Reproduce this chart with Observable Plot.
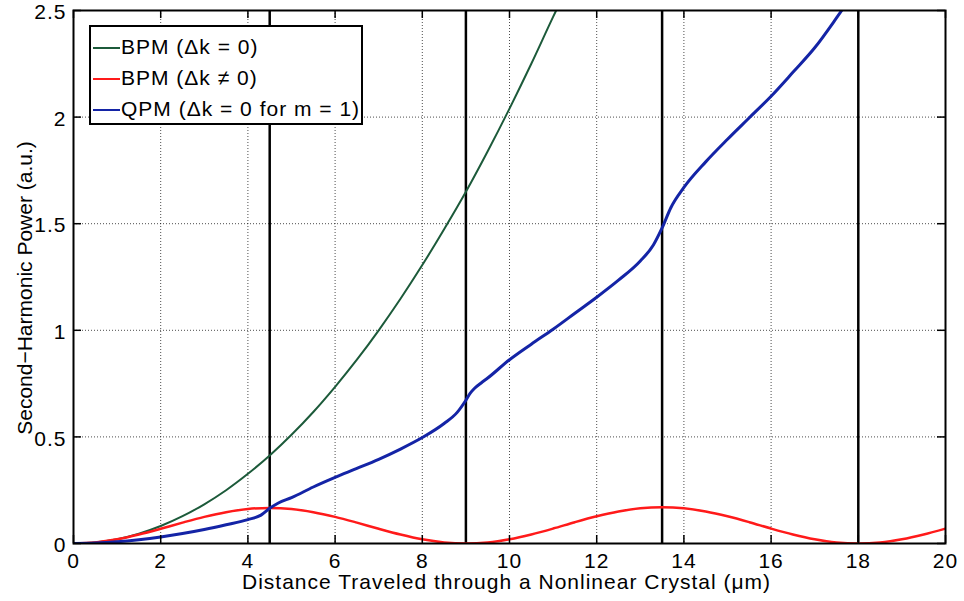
<!DOCTYPE html>
<html>
<head>
<meta charset="utf-8">
<script src="https://cdn.jsdelivr.net/npm/d3@7"></script>
<script src="https://cdn.jsdelivr.net/npm/@observablehq/plot@0.6"></script>
<style>
  html, body { margin: 0; padding: 0; background: #fff; }
  #wrap { position: relative; width: 964px; height: 601px; font-family: "Liberation Sans", Arial, Helvetica, sans-serif; }
  #legend { position: absolute; left: 89px; top: 25px; width: 274px; height: 100px; box-sizing: border-box;
            border: 2px solid #000; background: #fff; font-size: 21px; letter-spacing: 1px; color: #000; }
  .row { position: absolute; left: 0; height: 30px; width: 270px; }
  .sw { position: absolute; left: 2px; width: 27px; height: 0; border-top: 2.5px solid; }
  .lab { position: absolute; left: 30px; white-space: nowrap; line-height: 30px; top: 0; }
</style>
</head>
<body>
<div id="wrap">
  <div id="chart"></div>
  <div id="legend"></div>
</div>
<script>
// ---- data ----
const xTicks = [0, 2, 4, 6, 8, 10, 12, 14, 16, 18, 20];
const yTicks = [0, 0.5, 1, 1.5, 2, 2.5];
const domainWalls = [4.5, 9, 13.5, 18];

const seriesNames = ["BPM (\u0394k = 0)", "BPM (\u0394k \u2260 0)", "QPM (\u0394k = 0 for m = 1)"];
const seriesColors = ["#1c5a3a", "#ff1a1a", "#1424a6"];

// BPM, phase matched
const bpmX = [0, 0.5, 1, 1.5, 2, 2.5, 3, 3.5, 4, 4.5, 5, 5.5, 6, 6.5, 7, 7.5, 8, 8.5, 9, 9.5, 10, 10.5, 11, 11.07];
const bpmY = [0, 0.005, 0.02, 0.046, 0.082, 0.128, 0.184, 0.25, 0.327, 0.413, 0.51, 0.617, 0.735, 0.862, 1.0, 1.148, 1.306, 1.474, 1.65, 1.84, 2.04, 2.25, 2.47, 2.5];

// BPM, phase mismatched
const misX = [0, 0.5, 1, 1.5, 2, 2.5, 3, 3.5, 4, 4.5, 5, 5.5, 6, 6.5, 7, 7.5, 8, 8.5, 9,
              9.5, 10, 10.5, 11, 11.5, 12, 12.5, 13, 13.5, 14, 14.5, 15, 15.5, 16, 16.5, 17, 17.5, 18,
              18.5, 19, 19.5, 20];
const misY = [0, 0.005, 0.0195, 0.042, 0.069, 0.098, 0.125, 0.147, 0.162, 0.167, 0.162, 0.147, 0.125, 0.098, 0.069, 0.042, 0.0195, 0.005, 0,
              0.005, 0.02, 0.0425, 0.07, 0.1, 0.1275, 0.15, 0.165, 0.17, 0.165, 0.15, 0.1275, 0.1, 0.07, 0.0425, 0.02, 0.005, 0,
              0.005, 0.02, 0.0425, 0.07];

// QPM
const qpmX = [0, 0.5, 1, 1.5, 2, 2.5, 3, 3.5, 4, 4.3, 4.5, 4.7, 5, 5.5, 6, 6.5, 7, 7.5, 8, 8.5, 8.8, 9, 9.1, 9.2, 9.35, 9.5,
              10, 10.5, 11, 11.5, 12, 12.5, 13, 13.3, 13.5, 13.7, 14, 14.5, 15, 15.5, 16, 16.5, 17, 17.5, 17.62];
const qpmY = [0, 0.002, 0.008, 0.018, 0.031, 0.047, 0.066, 0.088, 0.112, 0.133, 0.165, 0.19, 0.215, 0.265, 0.31, 0.352, 0.395, 0.443, 0.497, 0.563, 0.615, 0.672, 0.705, 0.728, 0.753, 0.776,
              0.862, 0.935, 1.005, 1.08, 1.155, 1.235, 1.325, 1.40, 1.48, 1.575, 1.67, 1.79, 1.896, 1.997, 2.098, 2.21, 2.325, 2.465, 2.5];

const xLabel = "Distance Traveled through a Nonlinear Crystal (\u03bcm)";
const yLabel = "Second\u2212Harmonic Power (a.u.)";

// ---- build tables ----
const bpm = bpmX.map((x, i) => ({x, y: bpmY[i]}));
const mis = misX.map((x, i) => ({x, y: misY[i]}));
const qpm = qpmX.map((x, i) => ({x, y: qpmY[i]}));
const x0 = xTicks[0], x1 = xTicks[xTicks.length - 1];
const y0 = yTicks[0], y1 = yTicks[yTicks.length - 1];

const fmt = d => String(d);

const chart = Plot.plot({
  width: 964,
  height: 601,
  marginLeft: 73,
  marginRight: 19,
  marginTop: 10,
  marginBottom: 58,
  style: {fontFamily: '"Liberation Sans", Arial, Helvetica, sans-serif', fontSize: "21px", color: "#000", background: "#fff", letterSpacing: "1px"},
  x: {domain: [x0, x1]},
  y: {domain: [y0, y1]},
  marks: [
    Plot.gridX(xTicks, {stroke: "#000", strokeOpacity: 0.7, strokeDasharray: "1,2", strokeWidth: 1}),
    Plot.gridY(yTicks, {stroke: "#000", strokeOpacity: 0.7, strokeDasharray: "1,2", strokeWidth: 1}),
    Plot.ruleX(domainWalls, {stroke: "#000", strokeWidth: 2.5}),
    Plot.line(bpm, {x: "x", y: "y", stroke: seriesColors[0], strokeWidth: 2, curve: "monotone-x", clip: true}),
    Plot.line(mis, {x: "x", y: "y", stroke: seriesColors[1], strokeWidth: 2.5, curve: "catmull-rom", clip: true}),
    Plot.line(qpm, {x: "x", y: "y", stroke: seriesColors[2], strokeWidth: 3, curve: "monotone-x", clip: true}),
    // tick labels
    Plot.axisX(xTicks, {anchor: "bottom", tickSize: 0, tickPadding: 10, tickFormat: fmt, label: null}),
    Plot.axisY(yTicks, {anchor: "left", tickSize: 0, tickPadding: 7, tickFormat: fmt, label: null, dy: 2}),
    // inward tick marks on all four sides
    Plot.ruleX(xTicks, {x: d => d, y1: y0, y2: y0, insetTop: -8, stroke: "#000", strokeWidth: 1.5}),
    Plot.ruleX(xTicks, {x: d => d, y1: y1, y2: y1, insetBottom: -8, stroke: "#000", strokeWidth: 1.5}),
    Plot.ruleY(yTicks, {y: d => d, x1: x0, x2: x0, insetRight: -8, stroke: "#000", strokeWidth: 1.5}),
    Plot.ruleY(yTicks, {y: d => d, x1: x1, x2: x1, insetLeft: -8, stroke: "#000", strokeWidth: 1.5}),
    // axis titles
    Plot.text([xLabel], {text: d => d, frameAnchor: "bottom", textAnchor: "middle", lineAnchor: "middle", dy: 39, dx: -3}),
    Plot.text([yLabel], {text: d => d, frameAnchor: "left", textAnchor: "middle", lineAnchor: "middle", dx: -48, dy: 11, rotate: -90}),
    Plot.frame({stroke: "#000", strokeWidth: 2})
  ]
});
document.getElementById("chart").appendChild(chart);
d3.select(chart).selectAll("text").filter(function() { return this.textContent === yLabel; })
  .style("letter-spacing", "0px");

// ---- legend ----
const legend = document.getElementById("legend");
seriesNames.forEach((name, i) => {
  const row = document.createElement("div");
  row.className = "row";
  row.style.top = (5 + i * 31) + "px";
  const sw = document.createElement("div");
  sw.className = "sw";
  sw.style.top = "15px";
  sw.style.borderTopColor = seriesColors[i];
  const lab = document.createElement("div");
  lab.className = "lab";
  lab.textContent = name;
  row.appendChild(sw);
  row.appendChild(lab);
  legend.appendChild(row);
});
</script>
</body>
</html>
